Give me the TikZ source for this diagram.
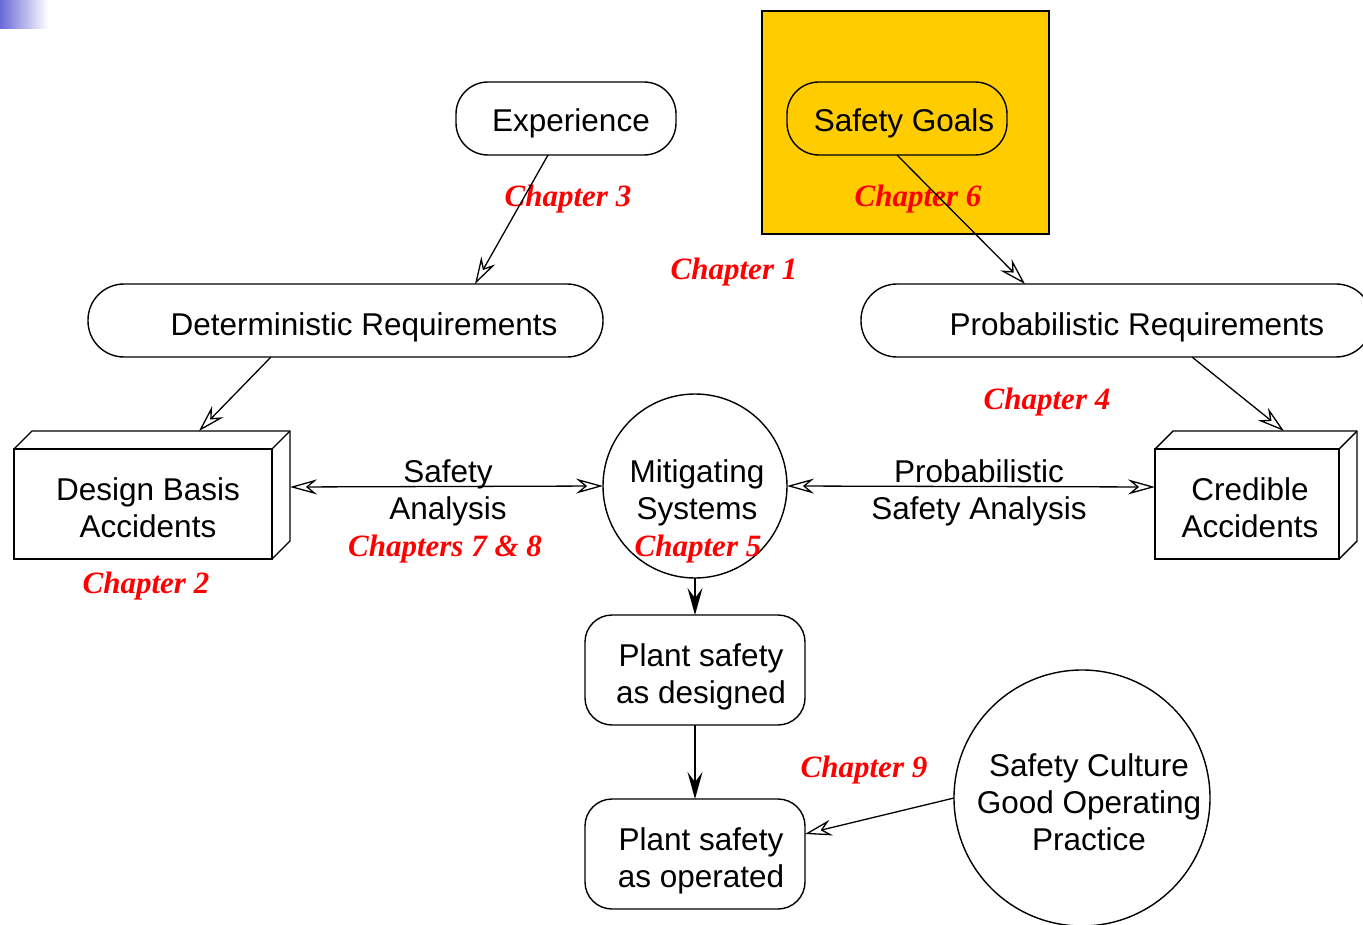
\documentclass[tikz,border=0pt]{standalone}
\usepackage{fontspec}
\setmainfont{Liberation Sans}
\newfontfamily\chapfont{Liberation Serif}
\usetikzlibrary{arrows.meta}
\definecolor{goalfill}{RGB}{255,204,0}
\definecolor{cornerblue}{RGB}{105,105,215}
\begin{document}
\begin{tikzpicture}[x=1pt,y=-1pt,
  every node/.style={inner sep=0pt,outer sep=0pt},
  shapeline/.style={draw,line width=1.4pt},
  pill/.style={shapeline,rectangle,rounded corners=36pt,minimum height=73pt},
  roundbox/.style={shapeline,rectangle,rounded corners=27pt,minimum width=220pt,minimum height=110pt},
  frontbox/.style={shapeline,rectangle,minimum height=110pt},
  disc/.style={shapeline,circle},
  lbl/.style={font=\fontsize{31.5}{37}\selectfont,align=center,anchor=base},
  chap/.style={font=\chapfont\bfseries\itshape\fontsize{31}{37}\selectfont,text=red,anchor=base},
  openarrow/.style={line width=1.3pt,-{Stealth[open,length=27pt,width=16pt,inset=9pt]}},
  openboth/.style={line width=1.3pt,{Stealth[open,length=27pt,width=15pt,inset=9pt]}-{Stealth[open,length=27pt,width=15pt,inset=9pt]}},
  solidarrow/.style={line width=1.3pt,-{Stealth[length=27pt,width=15pt,inset=10pt]}}
]
\useasboundingbox (0,0) rectangle (1363,925);

% corner tab
\shade[left color=cornerblue,right color=white] (0,0) rectangle (48,29);

% highlighted goal area
\node[shapeline,fill=goalfill,minimum width=287pt,minimum height=223pt] (goalarea) at (905.5,122.5) {};

% boxes
\node[pill,rounded corners=32pt,minimum width=220pt] (exp) at (566,118.5) {};
\node[pill,rounded corners=32pt,minimum width=220pt] (goals) at (897,118.5) {};
\node[pill,minimum width=515pt] (det) at (345.5,320.5) {};
\node[pill,minimum width=511pt] (prob) at (1116.5,320.5) {};

\node[frontbox,minimum width=258pt] (dba) at (143,504) {};
\draw[line width=1.4pt,line join=round] (dba.north west) -- ++(18,-18) -- ++(258,0) -- ++(0,110) -- (dba.south east);
\draw[line width=1.4pt] (dba.north east) -- ++(18,-18);

\node[frontbox,minimum width=184pt] (cred) at (1247,504) {};
\draw[line width=1.4pt,line join=round] (cred.north west) -- ++(18,-18) -- ++(184,0) -- ++(0,110) -- (cred.south east);
\draw[line width=1.4pt] (cred.north east) -- ++(18,-18);

\node[disc,minimum size=184pt] (mit) at (695,486) {};
\node[roundbox] (psd) at (695,670) {};
\node[roundbox] (pso) at (695,854) {};
\node[disc,minimum size=256pt] (cult) at (1082,798) {};

% texts (base anchor sits on the last line)
\node[lbl] (texp) at (571,132) {Experience};
\node[lbl] (tgoals) at (904,132) {Safety Goals};
\node[lbl] (tdet) at (364,335) {Deterministic Requirements};
\node[lbl] (tprob) at (1137,335) {Probabilistic Requirements};
\node[lbl] (tdba) at (148,537) {Design Basis\\Accidents};
\node[lbl] (tcred) at (1250,537) {Credible\\Accidents};
\node[lbl] (tsa) at (448,519) {Safety\\Analysis};
\node[lbl] (tmit) at (697,519) {Mitigating\\Systems};
\node[lbl] (tpsa) at (979,519) {Probabilistic\\Safety Analysis};
\node[lbl] (tpsd) at (701,703) {Plant safety\\as designed};
\node[lbl] (tpso) at (701,887) {Plant safety\\as operated};
\node[lbl] (tcult) at (1089,850) {Safety Culture\\Good Operating\\Practice};

% chapter references
\node[chap] (c1) at (734,280) {Chapter 1};
\node[chap] (c2) at (146,593) {Chapter 2};
\node[chap] (c3) at (568,207) {Chapter 3};
\node[chap] (c4) at (1047,409) {Chapter 4};
\node[chap] (c5) at (698,556) {Chapter 5};
\node[chap] (c6) at (918,207) {Chapter 6};
\node[chap] (c78) at (445,556) {Chapters 7 \& 8};
\node[chap] (c9) at (864,777) {Chapter 9};

% connectors
\draw[openarrow] ([xshift=-18pt]exp.south) -- ([xshift=129.5pt]det.north);
\draw[openarrow] (goals.south) -- ([xshift=-91.5pt]prob.north);
\draw[openarrow] ([xshift=-74.5pt]det.south) -- ([xshift=56pt,yshift=18pt]dba.north);
\draw[openarrow] ([xshift=75.5pt]prob.south) -- ([xshift=37pt,yshift=18pt]cred.north);
\draw[openboth] ([xshift=18pt,yshift=17pt]dba.east) -- (mit.west);
\draw[openboth] (mit.east) -- ([yshift=17pt]cred.west);
\draw[solidarrow] (mit.south) -- (psd.north);
\draw[solidarrow] (psd.south) -- (pso.north);
\draw[openarrow] (cult.west) -- ([yshift=20pt]pso.east);
\end{tikzpicture}
\end{document}
